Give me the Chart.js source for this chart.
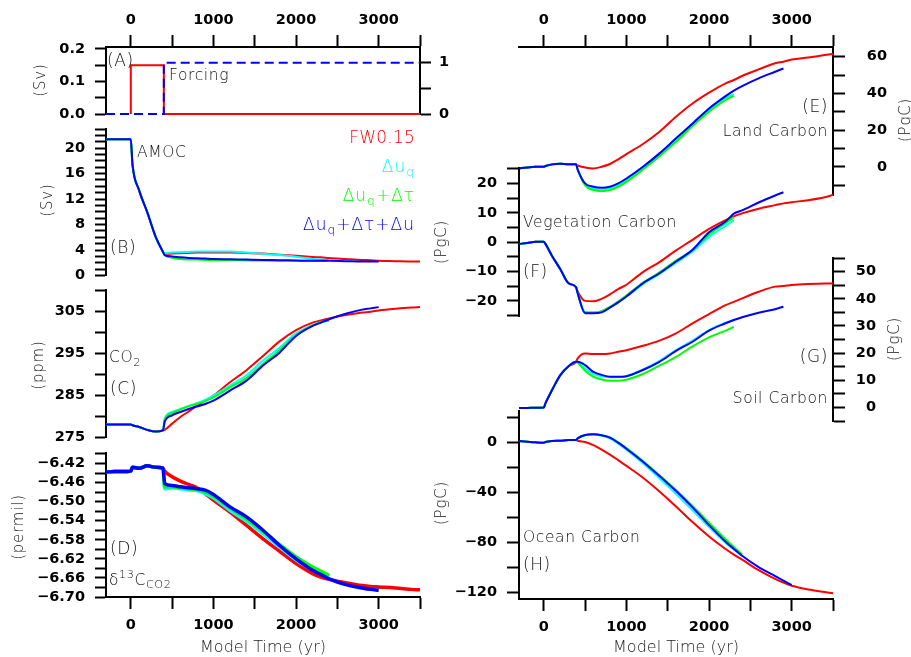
<!DOCTYPE html>
<html>
<head>
<meta charset="utf-8">
<script src="https://cdn.jsdelivr.net/npm/chart.js@4.4.1/dist/chart.umd.min.js"></script>
<style>
  body { margin: 0; background: #fff; }
  #fig { position: relative; width: 911px; height: 657px; overflow: hidden; background: #fff; }
  #fig canvas { position: absolute; }
  #notes { position: absolute; left: 0; top: 0; width: 911px; height: 657px; }
  .t { position: absolute; font-family: 'DejaVu Sans', sans-serif; font-weight: 200; font-size: 15.5px;
       color: #111; white-space: nowrap; letter-spacing: 0.6px; line-height: 1; transform: translateY(-50%); }
  .t.r { transform: translate(-100%, -50%); }
  .t.big { font-size: 17px; }
  .t.v { transform: translate(-50%, -50%) rotate(-90deg); font-size: 15px; letter-spacing: 0.8px; }
  .t.lg { font-size: 17px; letter-spacing: 1px; }
  .t sub { font-size: 0.72em; vertical-align: -0.35em; }
  .t sup { font-size: 0.72em; vertical-align: 0.55em; }
</style>
</head>
<body>
<div id="fig">
  <div id="notes">
    <div class="t big" style="left:107px;top:60px">(A)</div>
    <div class="t" style="left:169px;top:76px">Forcing</div>
    <div class="t" style="left:137px;top:153px">AMOC</div>
    <div class="t big" style="left:110px;top:247px">(B)</div>
    <div class="t" style="left:109px;top:359px">CO<sub>2</sub></div>
    <div class="t big" style="left:110px;top:388px">(C)</div>
    <div class="t big" style="left:110px;top:548px">(D)</div>
    <div class="t" style="left:109px;top:580px">δ<sup>13</sup>C<sub>CO2</sub></div>
    <div class="t big r" style="left:828px;top:106px">(E)</div>
    <div class="t r" style="left:828px;top:132px">Land Carbon</div>
    <div class="t" style="left:523px;top:223px">Vegetation Carbon</div>
    <div class="t big" style="left:523px;top:271px">(F)</div>
    <div class="t big r" style="left:828px;top:356px">(G)</div>
    <div class="t r" style="left:828px;top:399px">Soil Carbon</div>
    <div class="t" style="left:523px;top:538px">Ocean Carbon</div>
    <div class="t big" style="left:523px;top:564px">(H)</div>

    <div class="t r lg" style="left:415px;top:137px;color:#ff0000;letter-spacing:0.2px">FW0.15</div>
    <div class="t r lg" style="left:415px;top:168px;color:#00ffff">Δu<sub>q</sub></div>
    <div class="t r lg" style="left:415px;top:197px;color:#00ff00">Δu<sub>q</sub>+Δτ</div>
    <div class="t r lg" style="left:415px;top:226px;color:#0000ff">Δu<sub>q</sub>+Δτ+Δu</div>

    <div class="t v" style="left:40px;top:80px">(Sv)</div>
    <div class="t v" style="left:47px;top:200px">(Sv)</div>
    <div class="t v" style="left:38px;top:365px">(ppm)</div>
    <div class="t v" style="left:18px;top:527px">(permil)</div>
    <div class="t v" style="left:905px;top:120px">(PgC)</div>
    <div class="t v" style="left:441px;top:242px">(PgC)</div>
    <div class="t v" style="left:894px;top:339px">(PgC)</div>
    <div class="t v" style="left:441px;top:503px">(PgC)</div>
  </div>
</div>
<script>
// shared time grid (model years); first 9 entries are before the perturbation ends
const years = [-300, -200, -100, 0, 20, 100, 200, 300, 390, 410, 500, 600, 700, 800, 900, 1000,
  1200, 1400, 1600, 1800, 2000, 2200, 2300, 2400, 2600, 2800, 2900, 3000, 3200, 3400, 3500];

const yearTicks = [0, 500, 1000, 1500, 2000, 2500, 3000, 3500];
const yearLabels = [0, 1000, 2000, 3000];

// (A) forcing
const forcingYears = [0, 0, 400, 400, 3500];
const forcingSv = [0, 0.15, 0.15, 0, 0];
const switchYears = [-300, 400, 400, 3500];
const switchOn = [0, 0, 1, 1];
const forcingTicks = [0, 0.05, 0.1, 0.15, 0.2];
const forcingLabels = [0, 0.1, 0.2];
const switchTicks = [0, 0.5, 1];
const switchLabels = [0, 1];

// (B) AMOC (Sv)
const amocPre = [21.4, 21.4, 21.4, 21.4, 17.5, 13.4, 9.9, 6.1, 3.7];
const amocRed = [3.4, 3.45, 3.5, 3.55, 3.6, 3.6, 3.6, 3.6, 3.55, 3.45, 3.25, 3.1, 2.9, 2.85, 2.75, 2.6, 2.45, 2.4, 2.3, 2.25, 2.2, 2.2];
const amocCyan = [3.5, 3.6, 3.65, 3.7, 3.75, 3.75, 3.75, 3.75, 3.6, 3.4, 3.2, 2.95, 2.6, 2.5, 2.4];
const amocGreen = [3.2, 2.8, 2.6, 2.5, 2.5, 2.45, 2.4, 2.4, 2.35, 2.35, 2.3, 2.3, 2.3, 2.3, 2.3];
const amocBlue = [3.2, 3.0, 2.85, 2.75, 2.7, 2.65, 2.6, 2.55, 2.5, 2.45, 2.4, 2.35, 2.3, 2.3, 2.3, 2.25, 2.2, 2.2, 2.2];
const amocTicks = [0, 1, 2, 3, 4, 5, 6, 7, 8, 9, 10, 11, 12, 13, 14, 15, 16, 17, 18, 19, 20, 21, 22, 23];
const amocLabels = [0, 4, 8, 12, 16, 20];

// (C) CO2 (ppm)
const co2Pre = [278.0, 278.0, 278.0, 278.0, 277.8, 277.4, 276.7, 276.3, 276.6];
const co2Red = [276.7, 278.2, 279.8, 281.1, 282.5, 283.7, 284.9, 288.1, 291.0, 294.4, 297.9, 300.6, 302.4, 302.9, 303.4, 304.2, 304.8, 305.0, 305.3, 305.7, 306.0, 306.1];
const co2Cyan = [279.4, 281.0, 281.7, 282.4, 283.1, 283.9, 284.9, 287.3, 289.8, 293.3, 296.4, 299.8, 301.8, 302.5, 303.0];
const co2Green = [279.1, 280.7, 281.6, 282.4, 282.9, 283.6, 284.5, 286.9, 289.1, 292.5, 295.8, 299.4, 301.7, 302.4, 302.9];
const co2Blue = [278.6, 280.2, 281.0, 281.7, 282.3, 282.9, 283.7, 286.1, 288.5, 292.1, 295.2, 299.2, 301.6, 302.4, 303.2, 304.5, 305.5, 305.8, 306.1];
const co2Ticks = [275, 280, 285, 290, 295, 300, 305, 310];
const co2Labels = [275, 285, 295, 305];

// (D) d13C of atmospheric CO2 (permil)
const d13Pre = [-6.438, -6.437, -6.437, -6.436, -6.428, -6.430, -6.425, -6.428, -6.430];
const d13Red = [-6.436, -6.448, -6.457, -6.464, -6.471, -6.483, -6.497, -6.522, -6.550, -6.578, -6.604, -6.630, -6.651, -6.658, -6.663, -6.670, -6.676, -6.678, -6.679, -6.681, -6.684, -6.685];
const d13Cyan = [-6.473, -6.471, -6.473, -6.475, -6.477, -6.483, -6.492, -6.518, -6.541, -6.567, -6.595, -6.622, -6.642, -6.651, -6.658];
const d13Green = [-6.469, -6.469, -6.471, -6.473, -6.475, -6.480, -6.488, -6.513, -6.536, -6.562, -6.590, -6.616, -6.637, -6.646, -6.655];
const d13Blue = [-6.462, -6.466, -6.469, -6.471, -6.473, -6.476, -6.485, -6.511, -6.532, -6.560, -6.592, -6.620, -6.644, -6.653, -6.662, -6.674, -6.681, -6.684, -6.686];
const d13Ticks = [-6.70, -6.68, -6.66, -6.64, -6.62, -6.60, -6.58, -6.56, -6.54, -6.52, -6.50, -6.48, -6.46, -6.44, -6.42, -6.40];
const d13Labels = [-6.70, -6.66, -6.62, -6.58, -6.54, -6.50, -6.46, -6.42];

// (E) land carbon (PgC)
const landPre = [-0.9, -0.4, 0, 0, 0.4, 1.3, 1.6, 1.3, 1.3];
const landRed = [0.7, -0.4, -0.9, 0, 1.5, 4.0, 6.9, 12.4, 19.1, 27.3, 34.5, 40.4, 45.5, 47.3, 49.5, 53.1, 56.4, 57.3, 58.5, 59.6, 60.9, 61.5];
const landCyan = [-1.5, -9.6, -12.0, -12.4, -11.8, -10.0, -7.3, -0.5, 6.7, 14.5, 23.1, 31.1, 37.6, 39.6];
const landGreen = [-1.5, -10.2, -12.7, -13.3, -12.7, -10.9, -8.2, -1.5, 5.8, 13.6, 22.2, 30.0, 36.4, 38.7];
const landBlue = [-1.5, -9.1, -10.9, -11.5, -10.9, -9.1, -6.4, 0, 7.3, 15.5, 23.6, 31.8, 38.5, 41.5, 44.0, 48.2, 51.8, 53.6];
const landTicks = [-10, 0, 10, 20, 30, 40, 50, 60];
const landLabels = [0, 20, 40, 60];

// (F) vegetation carbon (PgC)
const vegPre = [-0.6, -0.3, 0.1, 0.1, -0.6, -4.7, -9.2, -14.0, -15.3];
const vegRed = [-16.8, -20.0, -20.1, -19.3, -17.8, -16.0, -14.5, -10.2, -6.8, -2.8, 0.8, 4.5, 7.5, 8.8, 9.8, 11.4, 12.6, 13.2, 13.6, 14.3, 15.3, 16.1];
const vegCyan = [-17.4, -23.8, -24.0, -23.6, -22.2, -20.5, -18.5, -14.3, -10.8, -7.0, -3.2, 1.8, 5.5, 7.4];
const vegGreen = [-17.4, -24.0, -24.0, -23.5, -22.0, -20.2, -18.2, -13.8, -10.3, -6.3, -2.8, 2.6, 6.5, 8.5];
const vegBlue = [-17.4, -24.2, -24.2, -23.9, -22.3, -20.5, -18.5, -14.0, -10.6, -6.6, -2.6, 3.4, 7.0, 9.7, 10.8, 13.5, 15.9, 17.0];
const vegTicks = [-25, -20, -15, -10, -5, 0, 5, 10, 15, 20, 25];
const vegLabels = [-20, -10, 0, 10, 20];

// (G) soil carbon (PgC)
const soilPre = [-0.2, -0.2, -0.1, 0, 1.5, 6.4, 11.9, 15.2, 16.8];
const soilRed = [18.1, 19.9, 19.7, 19.7, 19.9, 20.5, 21.1, 22.7, 24.6, 27.3, 31.0, 34.4, 37.7, 38.9, 40.2, 42.6, 44.5, 44.7, 45.1, 45.5, 45.7, 45.7];
const soilCyan = [16.7, 14.4, 12.3, 11.5, 11.1, 11.2, 11.5, 14.0, 17.2, 21.1, 24.6, 28.5, 31.2, 32.2];
const soilGreen = [16.5, 13.5, 11.3, 10.3, 9.8, 9.8, 10.2, 12.3, 15.4, 18.6, 22.5, 25.8, 28.3, 29.7];
const soilBlue = [16.8, 15.6, 13.1, 12.0, 11.3, 11.3, 11.5, 13.8, 16.8, 20.8, 24.2, 28.3, 31.0, 32.2, 33.2, 34.9, 36.2, 37.1];
const soilTicks = [-5, 0, 5, 10, 15, 20, 25, 30, 35, 40, 45, 50, 55];
const soilLabels = [0, 10, 20, 30, 40, 50];

// (H) ocean carbon (PgC)
const oceanPre = [1.3, 0.8, 0.3, 0, 0.5, 1.3, 1.6, 2.1, 2.1];
const oceanRed = [1.5, 0.5, -2.0, -5.5, -9.5, -14.0, -18.5, -28.0, -39.0, -51.0, -63.5, -75.0, -85.0, -89.5, -93.5, -102.0, -109.0, -112.0, -114.5, -117.5, -119.5, -120.5];
const oceanCyan = [3.5, 6.0, 6.5, 5.5, 3.4, -0.8, -5.7, -16.5, -28.5, -41.0, -54.0, -67.5, -80.0, -85.5, -90.5];
const oceanGreen = [3.5, 6.1, 6.7, 6.0, 4.2, 0.3, -4.3, -14.6, -26.0, -37.9, -50.7, -64.0, -77.3, -83.5, -89.5];
const oceanBlue = [3.5, 6.1, 6.7, 5.9, 4.0, 0, -4.8, -15.2, -26.7, -38.7, -51.7, -65.9, -79.2, -85.0, -90.5, -99.5, -106.7, -110.4, -113.9];
const oceanTicks = [-120, -100, -80, -60, -40, -20, 0, 20];
const oceanLabels = [-120, -80, -40, 0];

const RED = '#ff0000', CYAN = '#00ffff', GREEN = '#00ff00', BLUE = '#0000ff';
const tickFont = { family: 'DejaVu Sans', size: 14.5, weight: 'bold' };
const fig = document.getElementById('fig');
const notes = document.getElementById('notes');

const has = (arr, v) => arr.some(a => Math.abs(a - v) < 1e-6);
const signed = v => (v < 0 ? '\u2212' : '') + Math.abs(v);

function series(pre, post, color, width) {
  const vals = pre.concat(post);
  return {
    data: vals.map((y, i) => ({ x: years[i], y: y })),
    borderColor: color,
    borderWidth: width || 2,
    pointRadius: 0,
    cubicInterpolationMode: 'monotone',
    clip: false
  };
}

function stepLine(xs, ys, color, axis, dash) {
  return {
    data: xs.map((x, i) => ({ x: x, y: ys[i] })),
    borderColor: color, borderWidth: 2, pointRadius: 0, tension: 0,
    borderDash: dash || [], yAxisID: axis, clip: false
  };
}

function valueAxis(position, min, max, ticks, labels, fmt, pad, tickLen) {
  return {
    type: 'linear', position: position, min: min, max: max,
    afterBuildTicks: s => { s.ticks = ticks.map(v => ({ value: v })); },
    grid: { drawOnChartArea: false, tickLength: tickLen || 11, tickWidth: 2, tickColor: '#000' },
    border: { display: true, color: '#000', width: 2 },
    ticks: {
      autoSkip: false, padding: pad, color: '#000', font: tickFont,
      // right-hand axes: labels flush with the outer edge of the axis box
      crossAlign: position === 'right' ? 'far' : 'near',
      callback: v => has(labels, v) ? fmt(v) : ''
    }
  };
}

function timeAxis(position) {
  return {
    type: 'linear', position: position, min: -300, max: 3500,
    afterBuildTicks: s => { s.ticks = yearTicks.map(v => ({ value: v })); },
    grid: { drawOnChartArea: false, tickLength: 12, tickWidth: 2, tickColor: '#000' },
    border: { display: true, color: '#000', width: 2 },
    ticks: {
      autoSkip: false, maxRotation: 0, minRotation: 0, padding: position === 'top' ? 6 : 8,
      color: '#000', font: tickFont,
      callback: v => has(yearLabels, v) ? String(v) : ''
    },
    title: {
      display: position === 'bottom', text: 'Model Time (yr)', color: '#222', padding: 0,
      font: { family: 'DejaVu Sans', size: 16, weight: '200' }
    }
  };
}

const hiddenTime = () => ({ type: 'linear', display: false, min: -300, max: 3500 });

// canvas rectangle and plot-area rectangle in page pixels; axis boxes fill the margins
function panel(cv, plot, scales, datasets) {
  const m = {
    left: plot.l - cv.x, top: plot.t - cv.y,
    right: cv.x + cv.w - plot.r, bottom: cv.y + cv.h - plot.b
  };
  const pad = { left: 0, right: 0, top: 0, bottom: 0 };
  const used = {};
  Object.values(scales).forEach(s => { if (s.display !== false) used[s.position] = s; });
  ['left', 'right', 'top', 'bottom'].forEach(side => {
    if (used[side]) {
      const horiz = side === 'top' || side === 'bottom';
      used[side].afterFit = sc => { if (horiz) sc.height = m[side]; else sc.width = m[side]; };
    } else {
      pad[side] = m[side];
    }
  });
  const el = document.createElement('canvas');
  el.width = cv.w; el.height = cv.h;
  el.style.left = cv.x + 'px'; el.style.top = cv.y + 'px';
  fig.insertBefore(el, notes);
  new Chart(el, {
    type: 'line',
    data: { datasets: datasets },
    options: {
      responsive: false, animation: false, events: [],
      layout: { padding: pad },
      plugins: { legend: { display: false }, tooltip: { enabled: false } },
      scales: scales
    }
  });
}

// (A)
panel({ x: 0, y: 0, w: 449, h: 150 }, { l: 106, t: 47, r: 420, b: 114 }, {
  x: timeAxis('top'),
  y: valueAxis('left', 0, 0.206, forcingTicks, forcingLabels, v => v.toFixed(1), 10),
  y2: valueAxis('right', 0, 1.306, switchTicks, switchLabels, v => String(v), 9)
}, [
  stepLine(switchYears, switchOn, BLUE, 'y2', [9, 5]),
  stepLine(forcingYears, forcingSv, RED, 'y')
]);

// (B)
panel({ x: 0, y: 93, w: 460, h: 219 }, { l: 106, t: 129, r: 420, b: 275.5 }, {
  x: hiddenTime(),
  y: valueAxis('left', 0, 23, amocTicks, amocLabels, signed, 10)
}, [
  series(amocPre, amocBlue, BLUE),
  series(amocPre, amocGreen, GREEN),
  series(amocPre, amocCyan, CYAN),
  series(amocPre, amocRed, RED)
]);

// (C)
panel({ x: 0, y: 254, w: 460, h: 219 }, { l: 106, t: 290, r: 420, b: 437 }, {
  x: hiddenTime(),
  y: valueAxis('left', 275, 310.2, co2Ticks, co2Labels, signed, 10)
}, [
  series(co2Pre, co2Blue, BLUE),
  series(co2Pre, co2Green, GREEN),
  series(co2Pre, co2Cyan, CYAN),
  series(co2Pre, co2Red, RED)
]);

// (D)
panel({ x: 0, y: 417, w: 460, h: 240 }, { l: 106, t: 453, r: 420, b: 597 }, {
  x: timeAxis('bottom'),
  y: valueAxis('left', -6.70, -6.398, d13Ticks, d13Labels, v => '\u2212' + Math.abs(v).toFixed(2), 10)
}, [
  series(d13Pre, d13Blue, BLUE, 3.5),
  series(d13Pre, d13Green, GREEN, 3.5),
  series(d13Pre, d13Cyan, CYAN, 3.5),
  series(d13Pre, d13Red, RED, 3.5)
]);

// (E)
panel({ x: 470, y: 0, w: 417, h: 235 }, { l: 519, t: 47, r: 833, b: 195 }, {
  x: timeAxis('top'),
  y: valueAxis('right', -15.4, 65.3, landTicks, landLabels, signed, 22, 12)
}, [
  series(landPre, landBlue, BLUE),
  series(landPre, landGreen, GREEN),
  series(landPre, landCyan, CYAN),
  series(landPre, landRed, RED)
]);

// (F)
panel({ x: 450, y: 132, w: 420, h: 220 }, { l: 519, t: 168, r: 833, b: 316 }, {
  x: hiddenTime(),
  y: valueAxis('left', -25.15, 25.25, vegTicks, vegLabels, signed, 10, 12)
}, [
  series(vegPre, vegBlue, BLUE),
  series(vegPre, vegGreen, GREEN),
  series(vegPre, vegCyan, CYAN),
  series(vegPre, vegRed, RED)
]);

// (G)
panel({ x: 470, y: 222, w: 406, h: 235 }, { l: 519, t: 258, r: 833, b: 421 }, {
  x: hiddenTime(),
  y: valueAxis('right', -5.0, 55.05, soilTicks, soilLabels, signed, 12, 12)
}, [
  series(soilPre, soilBlue, BLUE),
  series(soilPre, soilGreen, GREEN),
  series(soilPre, soilCyan, CYAN),
  series(soilPre, soilRed, RED)
]);

// (H)
panel({ x: 450, y: 375, w: 420, h: 282 }, { l: 519, t: 411, r: 833, b: 599 }, {
  x: timeAxis('bottom'),
  y: valueAxis('left', -125.04, 25.36, oceanTicks, oceanLabels, signed, 10, 12)
}, [
  series(oceanPre, oceanBlue, BLUE),
  series(oceanPre, oceanGreen, GREEN),
  series(oceanPre, oceanCyan, CYAN),
  series(oceanPre, oceanRed, RED)
]);
</script>
</body>
</html>
